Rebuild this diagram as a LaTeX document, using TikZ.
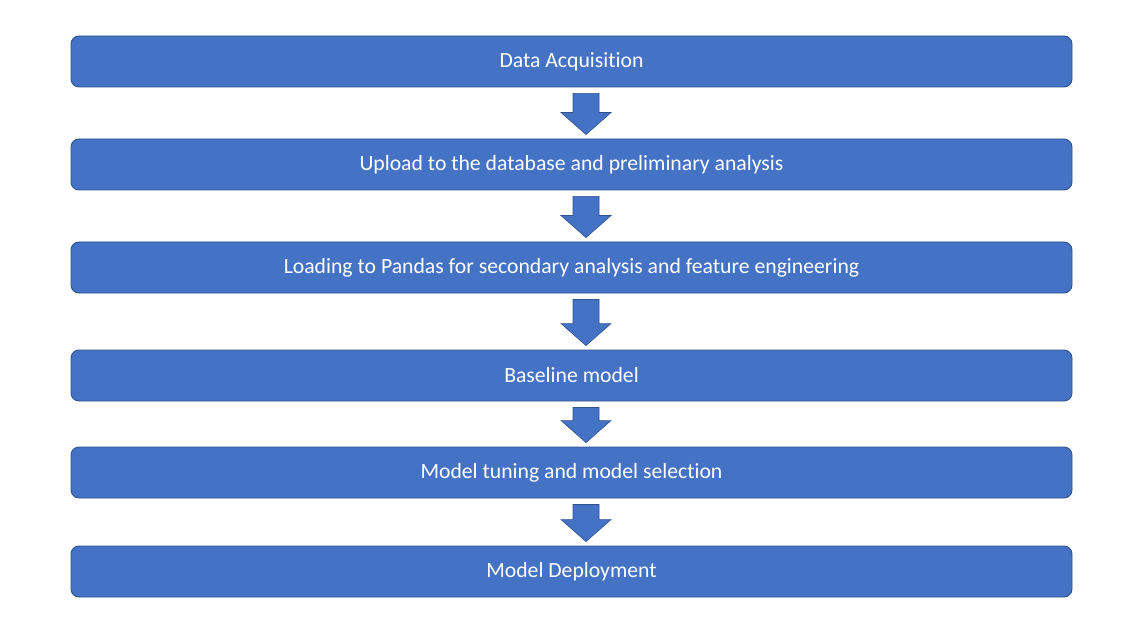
\documentclass[tikz,border=0pt]{standalone}
\usepackage{fontspec}
\setmainfont{Carlito}[Ligatures=NoCommon]
\usepackage{tikz}
\usetikzlibrary{calc}
\definecolor{stepblue}{HTML}{4472C4}
\definecolor{stepedge}{HTML}{2F528F}
\tikzset{
  stage/.style={draw=stepedge, line width=0.9pt, fill=stepblue, rounded corners=8pt, minimum width=1001pt, minimum height=51pt, text=white, font=\fontsize{21.7}{26}\selectfont},
  flow/.style={draw=stepedge, line width=0.6pt, fill=stepblue}
}
\newcommand{\flowarrow}[2]{%
  \coordinate (top) at ($(#1.south)+(14.5pt,-6pt)$);
  \coordinate (tip) at ($(#2.north)+(14.5pt,4pt)$);
  \filldraw[flow] ($(top)+(-13pt,0)$) -- ($(top)+(13pt,0)$) -- ($(tip)+(13pt,22pt)$) -- ($(tip)+(25pt,22pt)$) -- (tip) -- ($(tip)+(-25pt,22pt)$) -- ($(tip)+(-13pt,22pt)$) -- cycle;}

\begin{document}
\begin{tikzpicture}
\useasboundingbox (0,0) rectangle (1142pt,-636pt);
\node[stage] (acq) at (571.5pt,-61.5pt) {Data Acquisition};
\node[stage] (upload) at (571.5pt,-164.5pt) {Upload to the database and preliminary analysis};
\node[stage] (pandas) at (571.5pt,-267.5pt) {Loading to Pandas for secondary analysis and feature engineering};
\node[stage] (base) at (571.5pt,-375.5pt) {Baseline model};
\node[stage] (tuning) at (571.5pt,-472.5pt) {Model tuning and model selection};
\node[stage] (deploy) at (571.5pt,-571.5pt) {Model Deployment};
\flowarrow{acq}{upload}
\flowarrow{upload}{pandas}
\flowarrow{pandas}{base}
\flowarrow{base}{tuning}
\flowarrow{tuning}{deploy}
\end{tikzpicture}
\end{document}
